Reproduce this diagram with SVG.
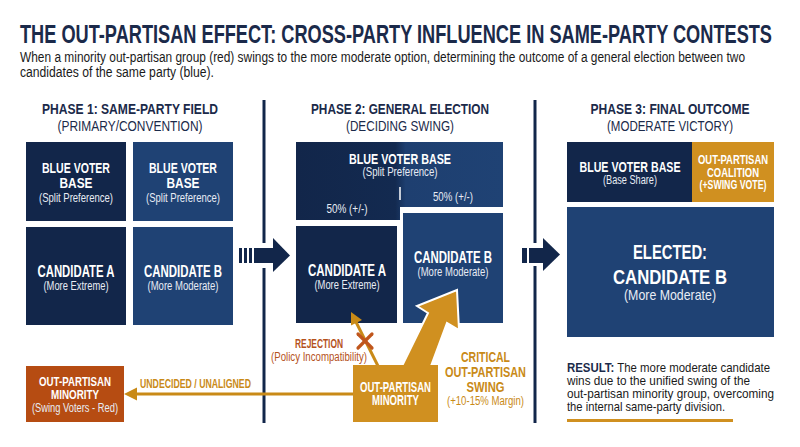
<svg xmlns="http://www.w3.org/2000/svg" width="800" height="447" viewBox="0 0 800 447">
<defs>
<style>
text{font-family:"Liberation Sans Narrow","Liberation Sans",Arial,sans-serif;}
.t{font-weight:bold;fill:#1b2a4a;font-size:26px;}
.sub{fill:#1a1a1a;font-size:14px;}
.ph{font-weight:bold;fill:#1b2a4a;font-size:15px;text-anchor:middle;}
.ph2{fill:#1b2a4a;font-size:15px;text-anchor:middle;}
.bl{font-weight:bold;fill:#fff;font-size:15px;text-anchor:middle;}
.bs{fill:#e8ecf4;font-size:12px;text-anchor:middle;}
.gold{font-weight:bold;fill:#c98a17;font-size:15px;text-anchor:middle;}
.golds{fill:#c98a17;font-size:12.5px;text-anchor:middle;}
.rej{font-weight:bold;fill:#b5521c;font-size:13px;text-anchor:middle;}
.rejs{fill:#b5521c;font-size:12.5px;text-anchor:middle;}
.res{fill:#1a1a1a;font-size:13.5px;}
.dk{fill:#12264a;}
.md{fill:#1f4274;}
.div{stroke:#12264a;stroke-width:3;}
</style>
<linearGradient id="split" x1="0" y1="0" x2="1" y2="0">
<stop offset="0" stop-color="#12264a"/>
<stop offset="0.48" stop-color="#132a50"/>
<stop offset="0.53" stop-color="#1e3f70"/>
<stop offset="1" stop-color="#1f4274"/>
</linearGradient>
</defs>
<rect width="800" height="447" fill="#fff"/>

<g id="title">
<text class="t" x="20" y="43" textLength="752" lengthAdjust="spacingAndGlyphs">THE OUT-PARTISAN EFFECT: CROSS-PARTY INFLUENCE IN SAME-PARTY CONTESTS</text>
<text class="sub" x="20" y="62" textLength="725" lengthAdjust="spacingAndGlyphs">When a minority out-partisan group (red) swings to the more moderate option, determining the outcome of a general election between two</text>
<text class="sub" x="20" y="77" textLength="194" lengthAdjust="spacingAndGlyphs">candidates of the same party (blue).</text>
</g>

<g id="dividers">
<line class="div" x1="264" y1="100" x2="264" y2="243"/>
<line class="div" x1="264" y1="268" x2="264" y2="423"/>
<line class="div" x1="535" y1="100" x2="535" y2="243"/>
<line class="div" x1="535" y1="266" x2="535" y2="423"/>
</g>

<g id="phase1">
<text class="ph" x="130" y="114" textLength="176" lengthAdjust="spacingAndGlyphs">PHASE 1: SAME-PARTY FIELD</text>
<text class="ph2" x="130" y="131" textLength="145" lengthAdjust="spacingAndGlyphs">(PRIMARY/CONVENTION)</text>
</g>
<g id="p1-base-a">
<rect class="dk" x="26" y="142" width="100" height="79"/>
<text class="bl" x="76" y="173" textLength="68" lengthAdjust="spacingAndGlyphs">BLUE VOTER</text>
<text class="bl" x="76" y="188" textLength="33" lengthAdjust="spacingAndGlyphs">BASE</text>
<text class="bs" x="76" y="202" textLength="74" lengthAdjust="spacingAndGlyphs">(Split Preference)</text>
</g>
<g id="p1-base-b">
<rect class="md" x="133" y="142" width="100" height="79"/>
<text class="bl" x="183" y="173" textLength="68" lengthAdjust="spacingAndGlyphs">BLUE VOTER</text>
<text class="bl" x="183" y="188" textLength="33" lengthAdjust="spacingAndGlyphs">BASE</text>
<text class="bs" x="183" y="202" textLength="74" lengthAdjust="spacingAndGlyphs">(Split Preference)</text>
</g>
<g id="p1-cand-a">
<rect class="dk" x="26" y="227" width="100" height="98"/>
<text class="bl" x="76" y="277" style="font-size:16px" textLength="77" lengthAdjust="spacingAndGlyphs">CANDIDATE A</text>
<text class="bs" x="76" y="290" textLength="65" lengthAdjust="spacingAndGlyphs">(More Extreme)</text>
</g>
<g id="p1-cand-b">
<rect class="md" x="133" y="227" width="100" height="98"/>
<text class="bl" x="183" y="277" style="font-size:16px" textLength="78" lengthAdjust="spacingAndGlyphs">CANDIDATE B</text>
<text class="bs" x="183" y="290" textLength="71" lengthAdjust="spacingAndGlyphs">(More Moderate)</text>
</g>

<g id="arrow1" fill="#12264a">
<rect x="239" y="248" width="3" height="15"/>
<rect x="244" y="248" width="3" height="15"/>
<rect x="249" y="248" width="3" height="15"/>
<rect x="254" y="248" width="20" height="15"/>
<polygon points="273,238 290,255.5 273,272"/>
</g>

<g id="phase2">
<text class="ph" x="400" y="114" textLength="178" lengthAdjust="spacingAndGlyphs">PHASE 2: GENERAL ELECTION</text>
<text class="ph2" x="400" y="131" textLength="108" lengthAdjust="spacingAndGlyphs">(DECIDING SWING)</text>
</g>
<g id="p2-base">
<polygon fill="url(#split)" points="296,142 503,142 503,207 400,207 400,220 296,220"/>
<text class="bl" x="400" y="164" textLength="102" lengthAdjust="spacingAndGlyphs">BLUE VOTER BASE</text>
<text class="bs" x="400" y="176" textLength="75" lengthAdjust="spacingAndGlyphs">(Split Preference)</text>
<line x1="400" y1="187" x2="400" y2="200" stroke="#fff" stroke-width="1.5"/>
<text class="bs" x="347" y="213" textLength="41" lengthAdjust="spacingAndGlyphs">50% (+/-)</text>
<text class="bs" x="453" y="201" textLength="40" lengthAdjust="spacingAndGlyphs">50% (+/-)</text>
</g>
<g id="p2-cand-a">
<rect class="dk" x="296" y="226" width="101" height="97"/>
<text class="bl" x="347" y="276" style="font-size:16px" textLength="78" lengthAdjust="spacingAndGlyphs">CANDIDATE A</text>
<text class="bs" x="347" y="289" textLength="65" lengthAdjust="spacingAndGlyphs">(More Extreme)</text>
</g>
<g id="p2-cand-b">
<rect class="md" x="403" y="213" width="100" height="110"/>
<text class="bl" x="453" y="263" style="font-size:16px" textLength="78" lengthAdjust="spacingAndGlyphs">CANDIDATE B</text>
<text class="bs" x="453" y="276" textLength="71" lengthAdjust="spacingAndGlyphs">(More Moderate)</text>
</g>

<g id="connectors">
<line x1="353" y1="394" x2="134" y2="394" stroke="#c98a17" stroke-width="3"/>
<polygon points="124,394 137,387.5 137,400.5" fill="#c98a17"/>
<line x1="378" y1="366" x2="356" y2="322" stroke="#c98a17" stroke-width="3"/>
<polygon points="351,312 362,320 351,325.5" fill="#c98a17"/>
<g stroke="#c0561c" stroke-width="3.2" stroke-linecap="round">
<line x1="358" y1="334" x2="372" y2="348"/>
<line x1="372" y1="334" x2="358" y2="348"/>
</g>
<polygon points="402,366 431,366 447,323 459,330 457,290 417,306 428,313" fill="#d09020" stroke="#fff" stroke-width="2" stroke-linejoin="miter"/>
<text class="gold" x="195.5" y="388" style="font-size:13px" textLength="111" lengthAdjust="spacingAndGlyphs">UNDECIDED / UNALIGNED</text>
<text class="rej" x="319" y="348" textLength="48" lengthAdjust="spacingAndGlyphs">REJECTION</text>
<text class="rejs" x="319" y="361" textLength="96" lengthAdjust="spacingAndGlyphs">(Policy Incompatibility)</text>
<text class="gold" x="485.5" y="362" style="font-size:15.5px" textLength="49" lengthAdjust="spacingAndGlyphs">CRITICAL</text>
<text class="gold" x="485.5" y="377" style="font-size:15.5px" textLength="81" lengthAdjust="spacingAndGlyphs">OUT-PARTISAN</text>
<text class="gold" x="485.5" y="392" style="font-size:15.5px" textLength="38" lengthAdjust="spacingAndGlyphs">SWING</text>
<text class="golds" x="485.5" y="405" style="font-size:12px" textLength="77" lengthAdjust="spacingAndGlyphs">(+10-15% Margin)</text>
</g>

<g id="out-partisan-minority-red">
<rect x="26" y="366" width="98" height="56" fill="#b64c12"/>
<text class="bl" x="75" y="386" style="font-size:13.5px" textLength="72" lengthAdjust="spacingAndGlyphs">OUT-PARTISAN</text>
<text class="bl" x="75" y="399" style="font-size:13.5px" textLength="48" lengthAdjust="spacingAndGlyphs">MINORITY</text>
<text class="bs" x="75" y="412" textLength="86" lengthAdjust="spacingAndGlyphs">(Swing Voters - Red)</text>
</g>

<g id="out-partisan-minority-gold">
<rect x="353" y="365" width="85" height="57" fill="#d09020"/>
<text class="bl" x="395.5" y="392" style="font-size:14px" textLength="71" lengthAdjust="spacingAndGlyphs">OUT-PARTISAN</text>
<text class="bl" x="395.5" y="405" style="font-size:14px" textLength="47" lengthAdjust="spacingAndGlyphs">MINORITY</text>
</g>

<g id="arrow2" fill="#12264a">
<rect x="522" y="248" width="5" height="15"/>
<rect x="529" y="248" width="15" height="15"/>
<polygon points="543,238 560,254.5 543,271"/>
</g>

<g id="phase3">
<text class="ph" x="670" y="114" textLength="159" lengthAdjust="spacingAndGlyphs">PHASE 3: FINAL OUTCOME</text>
<text class="ph2" x="670" y="131" textLength="126" lengthAdjust="spacingAndGlyphs">(MODERATE VICTORY)</text>
</g>
<g id="p3-base">
<rect class="dk" x="567" y="142" width="125" height="60"/>
<text class="bl" x="630" y="172" textLength="101" lengthAdjust="spacingAndGlyphs">BLUE VOTER BASE</text>
<text class="bs" x="630" y="184" textLength="54" lengthAdjust="spacingAndGlyphs">(Base Share)</text>
</g>
<g id="p3-coalition">
<rect x="692" y="142" width="82" height="60" fill="#d09020"/>
<text class="bl" x="733" y="164" style="font-size:12.5px" textLength="70" lengthAdjust="spacingAndGlyphs">OUT-PARTISAN</text>
<text class="bl" x="733" y="177" style="font-size:12.5px" textLength="52" lengthAdjust="spacingAndGlyphs">COALITION</text>
<text class="bl" x="733" y="189" style="font-size:12.5px" textLength="67" lengthAdjust="spacingAndGlyphs">(+SWING VOTE)</text>
</g>
<g id="p3-elected">
<rect class="md" x="567" y="207" width="207" height="130"/>
<text class="bl" x="670" y="259" style="font-size:20px" textLength="74" lengthAdjust="spacingAndGlyphs">ELECTED:</text>
<text class="bl" x="670" y="284" style="font-size:20px" textLength="114" lengthAdjust="spacingAndGlyphs">CANDIDATE B</text>
<text class="bs" x="670" y="300" style="font-size:15px" textLength="92" lengthAdjust="spacingAndGlyphs">(More Moderate)</text>
</g>
<g id="result">
<text class="res" x="567" y="372" textLength="203" lengthAdjust="spacingAndGlyphs"><tspan font-weight="bold" fill="#1b2a4a">RESULT:</tspan> The more moderate candidate</text>
<text class="res" x="567" y="385" textLength="183" lengthAdjust="spacingAndGlyphs">wins due to the unified swing of the</text>
<text class="res" x="567" y="398" textLength="207" lengthAdjust="spacingAndGlyphs">out-partisan minority group, overcoming</text>
<text class="res" x="567" y="411" textLength="158" lengthAdjust="spacingAndGlyphs">the internal same-party division.</text>
<rect x="567" y="419" width="166" height="3" fill="#d09020"/>
</g>
</svg>
